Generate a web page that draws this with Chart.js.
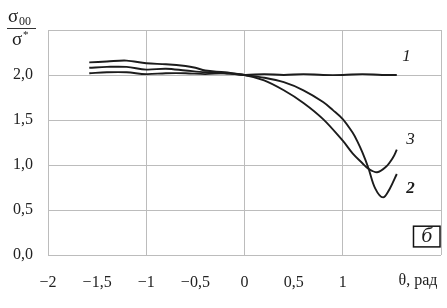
<!DOCTYPE html>
<html>
<head>
<meta charset="utf-8">
<script src="https://cdn.jsdelivr.net/npm/chart.js@4.4.1/dist/chart.umd.min.js"></script>
<style>
  html, body { margin: 0; padding: 0; background: #fff; }
  #wrap { width: 447px; height: 308px; }
</style>
</head>
<body>
<div id="wrap"><canvas id="chart" width="447" height="308"></canvas></div>
<script>
// curve 1 – stays flat
const theta1 = [-1.58, -1.4, -1.2, -1.0, -0.8, -0.6, -0.4, -0.2, 0, 0.2, 0.4, 0.6, 0.8, 1.0, 1.2, 1.4, 1.55];
const sigma1 = [2.02, 2.03, 2.03, 2.01, 2.02, 2.02, 2.01, 2.02, 2.0, 2.01, 2.0, 2.01, 2.0, 2.0, 2.01, 2.0, 2.0];

// curve 2 – drops late, deepest minimum
const theta2 = [-1.58, -1.4, -1.2, -1.0, -0.8, -0.6, -0.5, -0.4, -0.2, 0, 0.2, 0.4, 0.6, 0.8, 0.9, 1.0, 1.1, 1.15, 1.2, 1.26, 1.33, 1.41, 1.48, 1.55];
const sigma2 = [2.14, 2.15, 2.16, 2.13, 2.12, 2.1, 2.08, 2.05, 2.03, 2.0, 1.97, 1.92, 1.83, 1.7, 1.61, 1.51, 1.36, 1.26, 1.14, 0.97, 0.74, 0.64, 0.74, 0.9];

// curve 3 – drops earlier, shallower minimum
const theta3 = [-1.58, -1.4, -1.2, -1.0, -0.8, -0.6, -0.4, -0.2, 0, 0.2, 0.4, 0.6, 0.8, 1.0, 1.1, 1.2, 1.26, 1.35, 1.44, 1.51, 1.55];
const sigma3 = [2.08, 2.09, 2.09, 2.06, 2.07, 2.05, 2.03, 2.02, 2.0, 1.94, 1.83, 1.69, 1.51, 1.27, 1.13, 1.02, 0.96, 0.92, 0.98, 1.08, 1.17];

const xTickLabels = { "-2": "\u22122", "-1.5": "\u22121,5", "-1": "\u22121", "-0.5": "\u22120,5", "0": "0", "0.5": "0,5", "1": "1", "1.5": "", "2": "" };
const yTickLabels = { "0": "0,0", "0.5": "0,5", "1": "1,0", "1.5": "1,5", "2": "2,0", "2.5": "" };

const serif = "'Liberation Serif', 'DejaVu Serif', serif";
const gridGray = "#bcbcbc";
const ink = "#1c1c1c";

function pts(xs, ys) {
  return xs.map((x, i) => ({ x: x, y: ys[i] }));
}

const lineStyle = {
  borderColor: ink,
  borderWidth: 1.9,
  pointRadius: 0,
  tension: 0.35,
  fill: false
};

// text labels, frame letter and axis captions
const extras = {
  id: "extras",
  afterDraw: (chart) => {
    const ctx = chart.ctx;
    const xs = chart.scales.x;
    const ys = chart.scales.y;
    ctx.save();
    ctx.fillStyle = ink;
    ctx.textBaseline = "middle";
    ctx.textAlign = "center";

    // curve numbers
    ctx.font = "italic 17px " + serif;
    ctx.fillText("1", xs.getPixelForValue(1.65), ys.getPixelForValue(2.2));
    ctx.fillText("3", xs.getPixelForValue(1.69), ys.getPixelForValue(1.28));
    ctx.font = "italic bold 17px " + serif;
    ctx.fillText("2", xs.getPixelForValue(1.69), ys.getPixelForValue(0.74));

    // boxed panel letter
    const bx0 = xs.getPixelForValue(1.72), bx1 = xs.getPixelForValue(1.99);
    const by0 = ys.getPixelForValue(0.32), by1 = ys.getPixelForValue(0.09);
    ctx.fillStyle = "#fff";
    ctx.fillRect(bx0, by0, bx1 - bx0, by1 - by0);
    ctx.strokeStyle = "#111";
    ctx.lineWidth = 1.5;
    ctx.strokeRect(bx0, by0, bx1 - bx0, by1 - by0);
    ctx.fillStyle = ink;
    ctx.font = "italic 22px " + serif;
    ctx.fillText("б", (bx0 + bx1) / 2, (by0 + by1) / 2);

    // x axis caption in place of the last tick
    ctx.font = "16px " + serif;
    ctx.textBaseline = "top";
    ctx.fillText("θ, рад", 418, 273);

    // y axis caption: sigma_00 / sigma*
    ctx.textBaseline = "alphabetic";
    ctx.textAlign = "left";
    ctx.font = "19px " + serif;
    ctx.fillText("σ", 8, 22);
    ctx.font = "12px " + serif;
    ctx.fillText("00", 19, 25);
    ctx.strokeStyle = "#333";
    ctx.lineWidth = 1;
    ctx.beginPath();
    ctx.moveTo(7, 28.5);
    ctx.lineTo(36, 28.5);
    ctx.stroke();
    ctx.font = "19px " + serif;
    ctx.fillText("σ", 12, 45);
    ctx.font = "11px " + serif;
    ctx.fillText("*", 23, 38);
    ctx.restore();
  }
};

new Chart(document.getElementById("chart").getContext("2d"), {
  type: "scatter",
  plugins: [extras],
  data: {
    datasets: [
      Object.assign({ label: "1", data: pts(theta1, sigma1), showLine: true }, lineStyle),
      Object.assign({ label: "2", data: pts(theta2, sigma2), showLine: true }, lineStyle),
      Object.assign({ label: "3", data: pts(theta3, sigma3), showLine: true }, lineStyle)
    ]
  },
  options: {
    responsive: false,
    animation: false,
    events: [],
    layout: { padding: { top: 30, right: 6, left: 0, bottom: 0 } },
    plugins: { legend: { display: false }, tooltip: { enabled: false } },
    scales: {
      x: {
        type: "linear",
        min: -2,
        max: 2,
        afterFit: (s) => { s.height = 53; s.paddingLeft = 0; s.paddingRight = 0; },
        border: { display: false },
        grid: {
          drawTicks: false,
          lineWidth: 1,
          color: (c) => (c.tick && Number.isInteger(c.tick.value) ? gridGray : "rgba(0,0,0,0)")
        },
        ticks: {
          stepSize: 0.5,
          padding: 18,
          maxRotation: 0,
          autoSkip: false,
          color: "#222",
          font: { family: serif, size: 16 },
          callback: (v) => xTickLabels[String(v)] ?? ""
        }
      },
      y: {
        min: 0,
        max: 2.5,
        afterFit: (s) => { s.width = 48; },
        border: { display: false },
        grid: { drawTicks: false, lineWidth: 1, color: gridGray },
        ticks: {
          stepSize: 0.5,
          padding: 15,
          color: "#222",
          font: { family: serif, size: 16 },
          callback: (v) => yTickLabels[String(v)] ?? ""
        }
      }
    }
  }
});
</script>
</body>
</html>
